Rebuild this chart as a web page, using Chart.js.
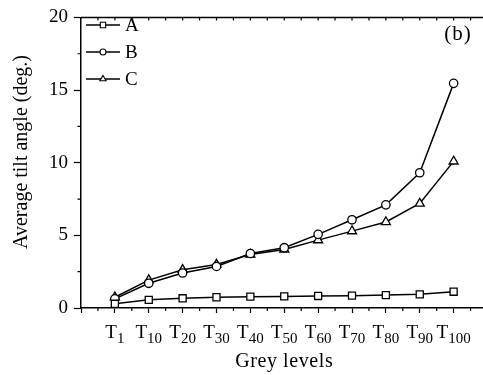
<!DOCTYPE html>
<html>
<head>
<meta charset="utf-8">
<script src="https://cdn.jsdelivr.net/npm/chart.js@4.4.0/dist/chart.umd.min.js"></script>
<style>
  html, body { margin: 0; padding: 0; overflow: hidden; background: #fff; }
  #wrap { width: 494px; height: 375px; position: relative; }
</style>
</head>
<body>
<div id="wrap"><canvas id="myChart"></canvas></div>
<script>
// grey levels T1 .. T100
var levels = ["1", "10", "20", "30", "40", "50", "60", "70", "80", "90", "100"];
var seriesNames = ["A", "B", "C"];
var valuesA = [0.29, 0.56, 0.67, 0.74, 0.78, 0.80, 0.83, 0.85, 0.89, 0.94, 1.12];
var valuesB = [0.63, 1.70, 2.41, 2.86, 3.75, 4.15, 5.07, 6.07, 7.10, 9.31, 15.46];
var valuesC = [0.74, 1.92, 2.63, 2.99, 3.68, 4.02, 4.67, 5.29, 5.92, 7.19, 10.09];
var yTicks = [0, 5, 10, 15, 20];

var serif = "'Liberation Serif', 'DejaVu Serif', serif";

function toPoints(vals) {
    return vals.map(function (v, i) { return {x: i + 1, y: v}; });
}

function makeSet(name, vals, style, r) {
    return {
        label: name,
        data: toPoints(vals),
        borderColor: '#000',
        borderWidth: 1.5,
        pointStyle: style,
        pointRadius: r,
        pointBorderWidth: 1.3,
        pointBackgroundColor: '#fff',
        pointBorderColor: '#000',
        tension: 0
    };
}

var extras = {
    id: 'extras',
    afterDraw: function (chart) {
        var ctx = chart.ctx;
        var a = chart.chartArea;
        var xs = chart.scales.x, ys = chart.scales.y;
        ctx.save();
        ctx.strokeStyle = '#000';
        ctx.fillStyle = '#000';

        // top frame line with inward ticks
        ctx.beginPath();
        ctx.lineWidth = 1.5;
        ctx.moveTo(a.left, a.top);
        ctx.lineTo(a.right, a.top);
        ctx.stroke();
        ctx.lineWidth = 1.2;
        ctx.beginPath();
        for (var t = 0.5; t < 12; t += 0.5) {
            var px = xs.getPixelForValue(t);
            ctx.moveTo(px, a.top);
            ctx.lineTo(px, a.top + 3);
        }
        // minor x ticks (outward)
        for (var m = 0.5; m < 12; m += 1) {
            var mx = xs.getPixelForValue(m);
            ctx.moveTo(mx, a.bottom);
            ctx.lineTo(mx, a.bottom + 3);
        }
        // minor y ticks (outward)
        for (var n = 2.5; n < 20; n += 5) {
            var my = ys.getPixelForValue(n);
            ctx.moveTo(a.left, my);
            ctx.lineTo(a.left - 3.5, my);
        }
        ctx.stroke();

        // x tick labels with subscripts
        ctx.textBaseline = 'alphabetic';
        ctx.textAlign = 'left';
        levels.forEach(function (lv, i) {
            var cx = xs.getPixelForValue(i + 1);
            ctx.font = '19px ' + serif;
            var wT = ctx.measureText('T').width;
            ctx.font = '15px ' + serif;
            var wS = ctx.measureText(lv).width;
            var x0 = cx - (wT + wS) / 2;
            ctx.font = '19px ' + serif;
            ctx.fillText('T', x0, 338);
            ctx.font = '15px ' + serif;
            ctx.fillText(lv, x0 + wT, 343);
        });

        // axis titles
        ctx.textAlign = 'center';
        ctx.textBaseline = 'middle';
        ctx.font = '20px ' + serif;
        ctx.letterSpacing = '0.6px';
        ctx.fillText('Grey levels', (a.left + a.right) / 2, 362);
        ctx.letterSpacing = '0px';
        ctx.save();
        ctx.translate(22, 152);
        ctx.rotate(-Math.PI / 2);
        ctx.fillText('Average tilt angle (deg.)', 0, 0);
        ctx.restore();

        // panel label
        ctx.font = '21px ' + serif;
        ctx.letterSpacing = '1px';
        ctx.fillText('(b)', 458, 34);
        ctx.letterSpacing = '0px';

        // legend
        var rowsY = [25, 52, 79];
        var styles = ['rect', 'circle', 'triangle'];
        var radii = [3.8, 3, 3.6];
        seriesNames.forEach(function (nm, i) {
            var y = rowsY[i];
            ctx.lineWidth = 1.5;
            ctx.beginPath();
            ctx.moveTo(86, y);
            ctx.lineTo(120, y);
            ctx.stroke();
            ctx.fillStyle = '#fff';
            ctx.lineWidth = 1.1;
            Chart.helpers.drawPoint(ctx, {pointStyle: styles[i], radius: radii[i], rotation: 0, borderWidth: 1.1}, 103, y);
            ctx.fillStyle = '#000';
            ctx.font = '19px ' + serif;
            ctx.textAlign = 'left';
            ctx.fillText(nm, 125, y + 1);
        });
        ctx.restore();
    }
};

var ctx = document.getElementById("myChart");
var myChart = new Chart(ctx, {
    type: 'line',
    data: {
        datasets: [
            makeSet(seriesNames[0], valuesA, 'rect', 5),
            makeSet(seriesNames[1], valuesB, 'circle', 4.2),
            makeSet(seriesNames[2], valuesC, 'triangle', 5.2)
        ]
    },
    options: {
        responsive: true,
        maintainAspectRatio: false,
        animation: false,
        layout: {padding: {top: 9, right: 4, left: 0, bottom: 0}},
        plugins: {
            legend: {display: false},
            tooltip: {enabled: false}
        },
        scales: {
            x: {
                type: 'linear',
                min: 0,
                max: 12,
                afterFit: function (s) { s.height = 67; },
                ticks: {display: false, stepSize: 1},
                grid: {drawOnChartArea: false, tickLength: 5, tickWidth: 1.2, color: '#000'},
                border: {color: '#000', width: 1.5}
            },
            y: {
                min: 0,
                max: 20,
                afterFit: function (s) { s.width = 81; },
                afterBuildTicks: function (s) {
                    s.ticks = yTicks.map(function (v) { return {value: v}; });
                },
                ticks: {color: '#000', padding: 6, font: {family: serif, size: 19}},
                grid: {drawOnChartArea: false, tickLength: 7, tickWidth: 1.2, color: '#000'},
                border: {color: '#000', width: 1.5}
            }
        }
    },
    plugins: [extras]
});
</script>
</body>
</html>
